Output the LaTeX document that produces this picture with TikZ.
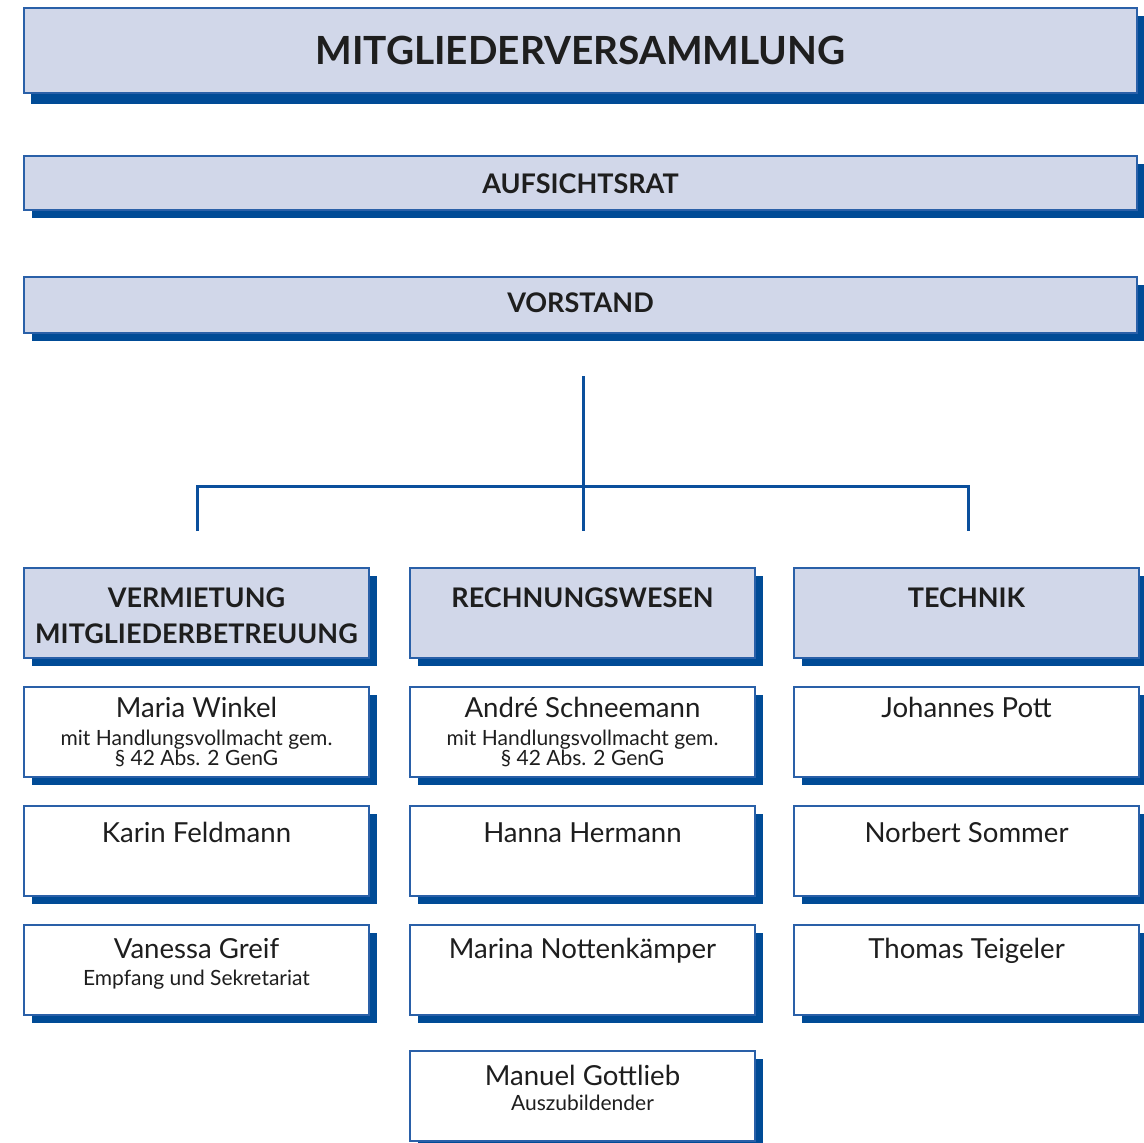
\documentclass[tikz,border=0pt]{standalone}
\usepackage{fontspec}
\setmainfont{Lato}
\usetikzlibrary{shadows}
\definecolor{kastenfill}{HTML}{D1D7E9}
\definecolor{kastenrand}{HTML}{2A60A8}
\definecolor{schatten}{HTML}{004B96}
\definecolor{linie}{HTML}{0B4F9C}
\definecolor{schrift}{HTML}{1E1E1E}
\tikzset{
  kasten/.style={draw=kastenrand, line width=0.8pt, fill=#1, inner sep=0pt,
    minimum width=172.5pt, minimum height=45pt, anchor=north,
    drop shadow={shadow xshift=4pt, shadow yshift=-4pt, fill=schatten, opacity=1}},
  kasten/.default=white,
  kopftext/.style={text=schrift, anchor=base, inner sep=0pt, font=\bfseries\fontsize{13.5}{15}\selectfont},
  nametext/.style={text=schrift, anchor=base, inner sep=0pt, font=\fontsize{13.8}{15}\selectfont},
  zusatztext/.style={text=schrift, anchor=base, inner sep=0pt, font=\fontsize{10.5}{12}\selectfont},
  verbindung/.style={draw=linie, line width=1.5pt}
}
\begin{document}
\begin{tikzpicture}[x=0.5pt, y=-0.5pt]
  \useasboundingbox (0,0) rectangle (1144,1142);
  % Gremien
  \node[kasten=kastenfill, minimum width=556.5pt, minimum height=42.5pt,
    drop shadow={shadow xshift=3.5pt, shadow yshift=-5.5pt, fill=schatten, opacity=1}] (mv) at (580.5,7) {};
  \node[kopftext, font=\bfseries\fontsize{19.4}{24}\selectfont] (mv-text) at (580.5,64) {MITGLIEDERVERSAMMLUNG};
  \node[kasten=kastenfill, minimum width=556.5pt, minimum height=27pt] (ar) at (580.5,155) {};
  \node[kopftext] (ar-text) at (580.5,193) {AUFSICHTSRAT};
  \node[kasten=kastenfill, minimum width=556.5pt, minimum height=28pt] (vs) at (580.5,276) {};
  \node[kopftext] (vs-text) at (580.5,312) {VORSTAND};
  % Verbindungslinien
  \coordinate (stamm) at (583,376);
  \coordinate (knoten) at (583,486);
  \coordinate (ast1) at (197,531);
  \coordinate (ast2) at (583,531);
  \coordinate (ast3) at (968,531);
  \draw[verbindung] (stamm) -- (ast2);
  \draw[verbindung] (ast1) |- (knoten) -| (ast3);
  % Abteilungen
  \foreach \n/\x in {verm/196.5, rw/582.5, tech/966.5} {
    \node[kasten=kastenfill] (\n) at (\x,567) {};
  }
  \node[kopftext] (verm-text1) at (196.5,607) {VERMIETUNG};
  \node[kopftext] (verm-text2) at (196.5,643) {MITGLIEDERBETREUUNG};
  \node[kopftext] (rw-text) at (582.5,607) {RECHNUNGSWESEN};
  \node[kopftext] (tech-text) at (966.5,607) {TECHNIK};
  % Mitarbeiter
  \foreach \n/\x/\y in {mw/196.5/686, kf/196.5/805, vg/196.5/924,
      as/582.5/686, hh/582.5/805, mn/582.5/924, mg/582.5/1050,
      jp/966.5/686, ns/966.5/805, tt/966.5/924} {
    \node[kasten] (\n) at (\x,\y) {};
  }
  \foreach \n/\x/\y/\nam in {mw/196.5/717/Maria Winkel, kf/196.5/842/Karin Feldmann,
      vg/196.5/958/Vanessa Greif, as/582.5/717/André Schneemann,
      hh/582.5/842/Hanna Hermann, mn/582.5/958/Marina Nottenkämper,
      mg/582.5/1085/Manuel Gottlieb, jp/966.5/717/Johannes Pott,
      ns/966.5/842/Norbert Sommer, tt/966.5/958/Thomas Teigeler} {
    \node[nametext] (\n-name) at (\x,\y) {\nam};
  }
  \foreach \n/\x in {mw/196.5, as/582.5} {
    \node[zusatztext] (\n-zusatz1) at (\x,745) {mit Handlungsvollmacht gem.};
    \node[zusatztext] (\n-zusatz2) at (\x,765) {§ 42 Abs. 2 GenG};
  }
  \node[zusatztext] (vg-zusatz) at (196.5,985) {Empfang und Sekretariat};
  \node[zusatztext] (mg-zusatz) at (582.5,1110) {Auszubildender};
\end{tikzpicture}
\end{document}
